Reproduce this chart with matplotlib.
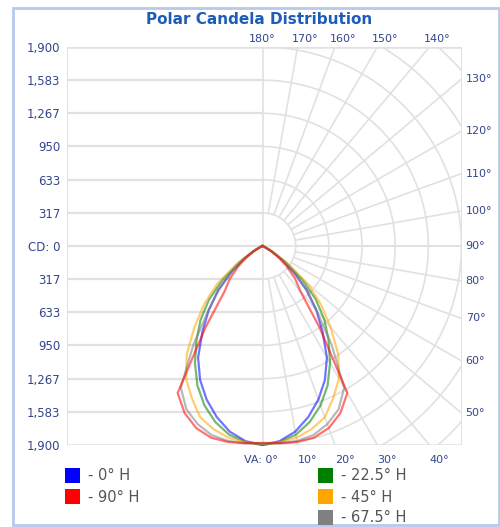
import numpy as np
import matplotlib
matplotlib.use("Agg")
import matplotlib.pyplot as plt
from matplotlib.patches import Rectangle

# vertical angles (deg) and candela values for each horizontal plane
angles = [0, 5, 10, 15, 20, 25, 30, 35, 40, 45, 50, 55, 60, 65, 70, 75, 80, 85, 90]
cd_0 = [1900, 1870, 1800, 1690, 1560, 1410, 1230, 1000, 800, 600, 390, 230, 100, 25, 5, 0, 0, 0, 0]
cd_22 = [1900, 1880, 1830, 1740, 1620, 1470, 1290, 1100, 920, 720, 490, 270, 105, 25, 5, 0, 0, 0, 0]
cd_45 = [1890, 1880, 1860, 1810, 1740, 1600, 1460, 1260, 1010, 790, 570, 300, 110, 25, 5, 0, 0, 0, 0]
cd_67 = [1885, 1890, 1890, 1870, 1810, 1720, 1560, 1150, 800, 590, 400, 230, 95, 22, 4, 0, 0, 0, 0]
cd_90 = [1880, 1890, 1900, 1895, 1850, 1760, 1620, 950, 560, 440, 300, 185, 80, 20, 4, 0, 0, 0, 0]

series = [("- 0° H", cd_0, "#0000ff"), ("- 22.5° H", cd_22, "#008000"),
          ("- 45° H", cd_45, "#ffa500"), ("- 67.5° H", cd_67, "#808080"),
          ("- 90° H", cd_90, "#ff0000")]

max_cd = 1900
tick_vals = [max_cd * k / 6 for k in range(-6, 7)]
tick_labels = ["1,900", "1,583", "1,267", "950", "633", "317", "CD: 0",
               "317", "633", "950", "1,267", "1,583", "1,900"]
radial_angles = list(range(0, 190, 10))

W, H = 500, 527
fig = plt.figure(figsize=(W / 100, H / 100), dpi=100)

# overlay in pixel coords for frame, title and legend
bg = fig.add_axes([0, 0, 1, 1])
bg.set_xlim(0, W)
bg.set_ylim(H, 0)
bg.axis("off")
bg.add_patch(Rectangle((13, 8), 486, 517, fill=False, ec="#b7caec", lw=2))
bg.text(259, 20, "Polar Candela Distribution", ha="center", va="center",
        fontsize=11, fontweight="bold", color="#1d5cb8")

# main plot area
cx, cy, R = 262.5, 246.0, 199.0
left_px, right_px, top_px, bot_px = 67, cx + R, cy - R, cy + R
ax = fig.add_axes([left_px / W, 1 - bot_px / H, (right_px - left_px) / W, (bot_px - top_px) / H])
xmin = (left_px - cx) / R * max_cd
ax.set_xlim(xmin, max_cd)
ax.set_ylim(-max_cd, max_cd)
for s in ax.spines.values():
    s.set_visible(False)
ax.set_xticks([])
ax.set_yticks(tick_vals[::-1], tick_labels)
ax.tick_params(axis="y", length=0, pad=5, labelsize=8.5, labelcolor="#34458c")

gc = "#e1e1e1"
# box
ax.plot([xmin, max_cd], [max_cd, max_cd], color=gc, lw=1.8, zorder=1)
ax.plot([xmin, max_cd], [-max_cd, -max_cd], color=gc, lw=1.8, zorder=1)
ax.plot([max_cd, max_cd], [-max_cd, max_cd], color=gc, lw=1.4, zorder=1)
ax.plot([xmin, xmin], [-max_cd, max_cd], color=gc, lw=1.4, zorder=1)
# horizontal lines on the left half
for v in tick_vals[1:-1]:
    ax.plot([xmin, 0], [v, v], color=gc, lw=1.6, zorder=1)
ax.plot([0, max_cd], [0, 0], color=gc, lw=1.2, zorder=1)
ax.plot([0, 0], [-max_cd, max_cd], color=gc, lw=1.2, zorder=1)
# polar arcs on the right half
th = np.radians(np.linspace(0, 180, 200))
for k in range(1, 10):
    r = max_cd * k / 6
    ax.plot(r * np.sin(th), -r * np.cos(th), color=gc, lw=1.2, zorder=1)
# radial lines
for a in radial_angles[1:-1]:
    t = np.radians(a)
    ax.plot([max_cd / 6 * np.sin(t), 3000 * np.sin(t)],
            [-max_cd / 6 * np.cos(t), -3000 * np.cos(t)], color=gc, lw=1.2, zorder=1)

# angle labels where radial lines meet the box
lc = "#34458c"
fs = 8
for a in radial_angles:
    t = np.radians(a)
    if a <= 40:
        x = max_cd * np.tan(t)
        if a == 0:
            ax.annotate("VA: 0°", (x, -max_cd), xytext=(11, -7), textcoords="offset points",
                        ha="right", va="top", fontsize=fs, color=lc, annotation_clip=False)
        else:
            ax.annotate(f"{a}°", (x, -max_cd), xytext=(0, -7), textcoords="offset points",
                        ha="left", va="top", fontsize=fs, color=lc, annotation_clip=False)
    elif a <= 130:
        y = -max_cd / np.tan(t) if a != 90 else 0
        ax.annotate(f"{a}°", (max_cd, y), xytext=(3, 0), textcoords="offset points",
                    ha="left", va="center", fontsize=fs, color=lc, annotation_clip=False)
    else:
        x = max_cd * np.tan(np.radians(180 - a))
        dx = -10 if a == 180 else -4
        ax.annotate(f"{a}°", (x, max_cd), xytext=(dx, 2), textcoords="offset points",
                    ha="left", va="bottom", fontsize=fs, color=lc, annotation_clip=False)

# candela curves, mirrored on both sides
ang = np.radians(np.array(angles, dtype=float))
for name, vals, col in series:
    v = np.array(vals, dtype=float)
    xs = np.concatenate([-(v * np.sin(ang))[::-1], (v * np.sin(ang))[1:]])
    ys = np.concatenate([-(v * np.cos(ang))[::-1], -(v * np.cos(ang))[1:]])
    ax.plot(xs, ys, color=col, lw=1.6, alpha=0.55, zorder=3, clip_on=False)

# legend
leg_pos = [(65, 468), (318, 468), (318, 489), (318, 510), (65, 489)]
for (name, vals, col), (lx, ly) in zip(series, leg_pos):
    bg.add_patch(Rectangle((lx, ly), 15, 15, fc=col, ec="none"))
    bg.text(lx + 23, ly + 8, name, ha="left", va="center", fontsize=10.5, color="#555555")

fig.savefig("out.png", dpi=100)
